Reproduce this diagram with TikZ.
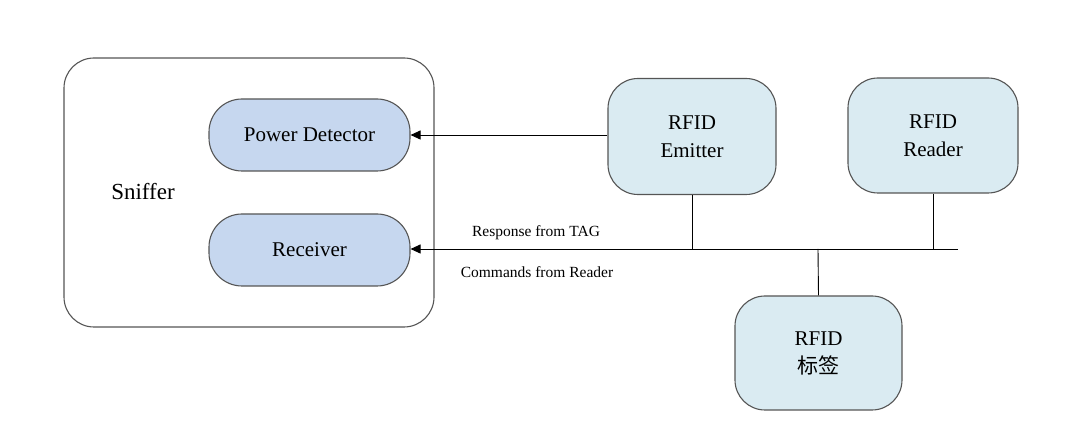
\documentclass[tikz,border=0pt]{standalone}
\usepackage{fontspec}
\setmainfont{Liberation Serif}
\newfontfamily\tms{Liberation Serif}
\newfontfamily\cjk{Noto Sans CJK SC}
\usetikzlibrary{arrows.meta}
\definecolor{pill}{HTML}{C6D7EF}
\definecolor{rfid}{HTML}{DAEBF2}
\definecolor{edge}{HTML}{555555}
\begin{document}
\begin{tikzpicture}[x=1pt,y=-1pt,
  outer/.style={draw=edge, line width=1.1pt, rounded corners=30pt, minimum width=370pt, minimum height=269pt, inner sep=0pt},
  pillbox/.style={draw=edge, line width=1.1pt, fill=pill, rounded corners=33pt, minimum width=201pt, minimum height=72pt, inner sep=0pt, font=\tms\fontsize{21}{25}\selectfont},
  rfidbox/.style={draw=edge, line width=1.1pt, fill=rfid, rounded corners=30pt, minimum width=168pt, minimum height=116pt, inner sep=0pt, align=center, font=\tms\fontsize{21}{28}\selectfont},
  conn/.style={line width=0.9pt, black},
  arr/.style={conn, -{Triangle[length=10pt,width=9pt]}},
  lbl/.style={font=\tms\fontsize{15.5}{18}\selectfont, inner sep=0pt}]
\useasboundingbox (0,0) rectangle (1080,435);
\node[outer] (sniffer) at (249,192.5) {};
\node[font=\tms\fontsize{23}{27}\selectfont] (sniffertxt) at (143,192) {Sniffer};
\node[pillbox] (pd) at (309.5,135) {Power Detector};
\node[pillbox] (rx) at (309.5,250) {Receiver};
\node[rfidbox] (em) at (692,136.5) {RFID\\Emitter};
\node[rfidbox, minimum width=170pt, minimum height=115pt] (rd) at (933,135.5) {RFID\\Reader};
\node[rfidbox, minimum width=167pt, minimum height=114pt] (tag) at (818.5,353) {RFID\\{\cjk 标签}};
\coordinate (busR) at (958,249);
\coordinate (busE) at (692,249);
\coordinate (busD) at (933,249);
\coordinate (busT) at (818,249);
\draw[arr] (em.west |- pd.east) -- (pd.east);
\draw[arr] (busR) -- (rx.east |- busR);
\draw[conn] (em.south) -- (busE);
\draw[conn] (rd.south) -- (busD);
\draw[conn] (busT) -- (tag.north);
\node[lbl] (resp) at (536,233) {Response from TAG};
\node[lbl] (cmd) at (537,272) {Commands from Reader};
\end{tikzpicture}
\end{document}
